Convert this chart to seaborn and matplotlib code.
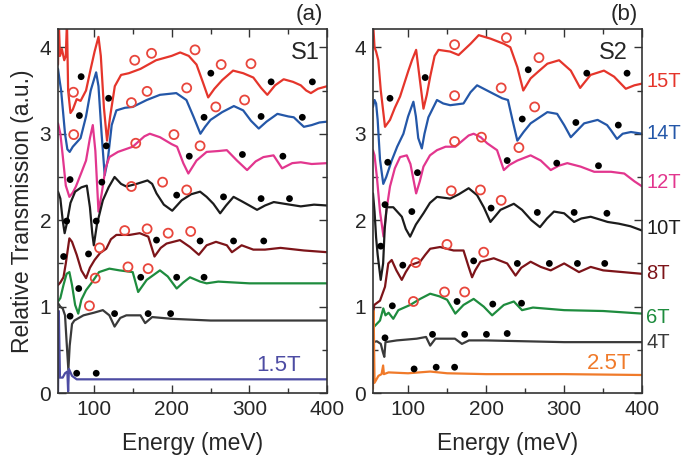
import numpy as np
import pandas as pd
import matplotlib
matplotlib.use("Agg")
import matplotlib.pyplot as plt
from matplotlib.ticker import MultipleLocator
import seaborn as sns

# ---------------- panel (a), sample S1 ----------------
s1_15t_e = [54, 55, 56.5, 59, 62, 64, 65.5, 67, 70, 73, 78, 83, 90, 96, 101, 106, 109, 113, 117, 121, 127, 135, 145, 160, 180, 200, 211, 222, 232, 240, 247, 255, 265, 279, 292, 305, 315, 323, 333, 344, 356, 366, 373, 379, 388, 400]
s1_15t_y = [3.80, 4.3, 3.9, 3.98, 3.85, 3.9, 4.3, 3.5, 3.24, 3.28, 3.40, 3.38, 3.50, 3.75, 3.95, 4.12, 3.9, 3.3, 2.92, 3.2, 3.55, 3.68, 3.70, 3.75, 3.85, 3.9, 3.94, 3.9, 3.8, 3.6, 3.42, 3.52, 3.62, 3.73, 3.70, 3.65, 3.53, 3.45, 3.56, 3.63, 3.6, 3.56, 3.5, 3.47, 3.52, 3.55]

s1_14t_e = [54, 56, 58, 60, 63, 66, 69, 73, 78, 83, 90, 96, 101, 103, 106, 110, 114, 118, 123, 129, 140, 150, 168, 185, 206, 219, 228, 237, 243, 250, 265, 280, 292, 302, 312, 322, 336, 350, 357, 364, 370, 380, 390, 400]
s1_14t_y = [3.75, 3.62, 3.5, 3.3, 3.0, 2.82, 2.79, 2.85, 2.9, 2.95, 3.2, 3.5, 3.65, 3.71, 3.55, 3.0, 2.52, 2.7, 3.1, 3.27, 3.30, 3.31, 3.39, 3.45, 3.47, 3.39, 3.2, 3.0, 3.08, 3.16, 3.25, 3.32, 3.27, 3.15, 3.06, 3.14, 3.23, 3.2, 3.19, 3.13, 3.08, 3.1, 3.13, 3.14]

s1_12t_e = [54, 57, 60, 64, 68.6, 73, 77, 84, 90, 95, 98.7, 102, 106, 110, 115, 120, 131, 150, 165, 172, 185, 200, 207, 215, 221.5, 232, 245, 260, 271, 284, 297, 308, 318, 331, 342, 355, 366, 380, 400]
s1_12t_y = [3.12, 3.0, 2.75, 2.4, 2.27, 2.32, 2.39, 2.55, 2.69, 2.95, 3.10, 2.8, 2.10, 2.3, 2.6, 2.73, 2.79, 2.85, 2.97, 3.0, 2.96, 2.88, 2.85, 2.66, 2.54, 2.69, 2.79, 2.8, 2.81, 2.69, 2.58, 2.68, 2.73, 2.75, 2.60, 2.66, 2.67, 2.65, 2.66]

s1_10t_e = [54, 57, 60, 62.5, 65, 70, 76, 84, 91, 95, 98, 100, 104, 111.6, 119, 126.7, 135, 141.8, 155, 169, 175, 180.6, 190, 200.8, 212.9, 225, 236.6, 245, 253.7, 262.4, 270, 279.6, 290, 300, 309.8, 320, 331.3, 345, 366, 383, 400]
s1_10t_y = [2.33, 2.25, 2.0, 1.85, 1.95, 2.2, 2.33, 2.38, 2.40, 2.15, 1.85, 1.71, 1.95, 2.23, 2.38, 2.50, 2.42, 2.39, 2.42, 2.46, 2.42, 2.31, 2.18, 2.11, 2.23, 2.3, 2.33, 2.27, 2.19, 2.08, 2.17, 2.27, 2.22, 2.17, 2.12, 2.17, 2.21, 2.19, 2.16, 2.18, 2.17]

s1_8t_e = [54, 57, 61, 64, 68.6, 72, 78, 84, 90, 95, 101, 108, 116, 122, 129, 146, 159, 170, 178, 186, 193.5, 210.7, 223.6, 235, 245, 257, 271, 277.5, 290, 305, 320, 340, 370, 400]
s1_8t_y = [1.25, 1.28, 1.34, 1.50, 1.79, 1.75, 1.6, 1.42, 1.33, 1.45, 1.54, 1.62, 1.67, 1.78, 1.83, 1.83, 1.85, 1.81, 1.58, 1.68, 1.73, 1.77, 1.69, 1.60, 1.71, 1.75, 1.71, 1.63, 1.71, 1.66, 1.66, 1.68, 1.65, 1.63]

s1_6t_e = [54, 57, 61, 65, 68.6, 72, 76, 80, 84, 90, 96.7, 106.7, 120, 133, 150, 157, 168, 185, 195, 206.5, 215, 223.6, 236.6, 245, 260, 300, 350, 400]
s1_6t_y = [1.06, 1.10, 1.25, 1.38, 1.40, 1.25, 1.02, 0.92, 1.08, 1.19, 1.27, 1.40, 1.44, 1.42, 1.40, 1.17, 1.31, 1.42, 1.35, 1.21, 1.28, 1.34, 1.29, 1.27, 1.29, 1.27, 1.27, 1.27]

s1_4t_e = [54, 57, 60, 63, 65, 67.3, 69, 72, 75, 86.7, 100, 111.6, 120, 126.7, 134, 141.8, 160, 166, 175, 200, 250, 300, 350, 400]
s1_4t_y = [1.04, 1.0, 0.98, 0.9, 0.6, 0.27, 0.55, 0.8, 0.84, 0.90, 0.93, 0.96, 0.9, 0.77, 0.87, 0.90, 0.90, 0.81, 0.88, 0.86, 0.84, 0.84, 0.84, 0.84]

s1_1p5t_e = [54, 55, 56.5, 60, 63, 66, 67, 68, 72, 78, 100, 200, 300, 400]
s1_1p5t_y = [0.0, 0.95, 0.18, 0.18, 0.23, 0.25, 0.02, 0.28, 0.2, 0.16, 0.16, 0.16, 0.16, 0.16]

s1_dot_e = [83.7, 119, 250.4, 327.9, 380.9, 81.5, 241.7, 315, 368, 116, 69.5, 110.3, 222.7, 291, 343, 65.1, 103.1, 206.5, 266.7, 315, 351.5, 61.2, 93.2, 180.6, 236.6, 279.6, 318.4, 80.6, 160.3, 206.5, 241.7, 69.5, 126.7, 169.8, 198.7, 78, 103.1]
s1_dot_y = [3.66, 3.41, 3.70, 3.60, 3.60, 3.21, 3.19, 3.20, 3.19, 2.86, 2.47, 2.44, 2.74, 2.76, 2.74, 1.99, 1.99, 2.29, 2.27, 2.25, 2.25, 1.58, 1.61, 1.77, 1.76, 1.76, 1.76, 1.21, 1.34, 1.34, 1.34, 0.89, 0.92, 0.92, 0.92, 0.23, 0.23]

s1_ring_e = [73.8, 152.6, 174.2, 230.1, 263.7, 302, 74.2, 148.3, 168.5, 219.4, 256.8, 293.8, 153.9, 203, 236.6, 148.3, 188.4, 219.4, 139.7, 168.5, 195.6, 224.5, 107.4, 143.9, 169.8, 101.8, 94.4]
s1_ring_y = [3.48, 3.85, 3.93, 3.97, 3.80, 3.81, 2.99, 3.36, 3.49, 3.53, 3.31, 3.39, 2.89, 2.99, 2.86, 2.39, 2.44, 2.35, 1.88, 1.90, 1.85, 1.87, 1.68, 1.46, 1.44, 1.33, 1.01]

# ---------------- panel (b), sample S2 ----------------
s2_15t_e = [55, 57, 59, 61.8, 65, 70.4, 76.8, 83, 89.7, 100.4, 105, 110.3, 114, 119.7, 124, 128.3, 134, 139, 154, 164.7, 180, 190.5, 205.5, 222.7, 231, 240, 247.6, 257, 267, 278.5, 293.5, 308.5, 320.5, 333.8, 351, 364, 379, 390, 400]
s2_15t_y = [4.3, 4.0, 3.95, 3.85, 3.5, 3.08, 3.16, 3.3, 3.43, 3.73, 3.85, 3.97, 3.7, 3.29, 3.45, 3.66, 3.9, 3.97, 3.95, 3.91, 4.04, 4.14, 4.10, 4.04, 4.0, 3.77, 3.50, 3.64, 3.72, 3.81, 3.85, 3.73, 3.53, 3.68, 3.73, 3.66, 3.52, 3.56, 3.58]

s2_14t_e = [55, 57, 59, 61, 64, 68.2, 72, 79, 86, 94, 100, 106.8, 110, 113, 117.6, 121, 126, 137, 145, 154, 171, 180, 188.4, 205.5, 220.6, 228, 234, 240, 248, 257, 278.5, 291, 300, 308.5, 316, 325.6, 342.9, 355, 360, 367.7, 375, 385.6, 400]
s2_14t_y = [3.31, 3.39, 3.35, 3.16, 2.7, 2.42, 2.5, 2.69, 2.85, 3.0, 3.2, 3.37, 3.2, 2.95, 2.83, 3.0, 3.19, 3.39, 3.35, 3.33, 3.35, 3.48, 3.56, 3.48, 3.41, 3.39, 3.15, 2.92, 3.02, 3.12, 3.25, 3.23, 3.1, 2.96, 3.03, 3.12, 3.16, 3.1, 3.04, 2.94, 3.0, 3.02, 3.0]

s2_12t_e = [55, 57, 60, 64, 68.5, 72, 76.8, 83, 89.7, 98.3, 103, 110.3, 115, 119.7, 128, 137, 148, 160.5, 177.6, 184, 193, 201.3, 214, 222.7, 230, 240, 257, 270, 282.8, 293, 304, 321, 338.5, 360, 377, 390, 400]
s2_12t_y = [2.81, 2.75, 2.5, 2.1, 1.81, 2.1, 2.39, 2.6, 2.73, 2.75, 2.65, 2.31, 2.45, 2.62, 2.75, 2.81, 2.85, 2.85, 2.98, 3.0, 2.96, 2.89, 2.81, 2.58, 2.64, 2.69, 2.75, 2.69, 2.58, 2.63, 2.66, 2.62, 2.56, 2.56, 2.54, 2.45, 2.39]

s2_10t_e = [55, 57, 59, 61, 64.9, 68, 70, 72.6, 81, 92, 97, 102.6, 110, 119.7, 128, 137, 154, 165, 177.6, 188.4, 197, 205.5, 212, 218.4, 235.5, 246, 258, 269, 278, 287, 300, 312.7, 322, 334, 345, 355.7, 370, 385, 400]
s2_10t_y = [2.31, 2.1, 1.8, 1.6, 1.31, 1.5, 1.9, 2.15, 2.15, 2.04, 1.9, 1.81, 1.95, 2.08, 2.2, 2.27, 2.25, 2.3, 2.37, 2.29, 2.15, 1.98, 2.05, 2.12, 2.19, 2.12, 2.0, 1.92, 2.02, 2.10, 2.08, 1.98, 2.02, 2.04, 2.01, 1.98, 1.96, 1.93, 1.88]

s2_8t_e = [55, 56.6, 64, 70.4, 74.6, 79, 85, 91.9, 97, 102.6, 115.4, 122, 128.3, 141, 158.3, 171, 177.6, 182, 186, 192.7, 209.8, 227, 237.7, 245, 257, 270, 282.8, 300, 319, 334, 350, 375, 400]
s2_8t_y = [0.9, 1.02, 1.07, 1.23, 1.50, 1.54, 1.42, 1.31, 1.4, 1.48, 1.52, 1.6, 1.67, 1.69, 1.65, 1.65, 1.46, 1.34, 1.42, 1.52, 1.56, 1.50, 1.36, 1.45, 1.52, 1.46, 1.42, 1.50, 1.40, 1.46, 1.42, 1.40, 1.38]

s2_6t_e = [55, 56.6, 64, 68.2, 71, 75, 81, 87.5, 102.6, 115.4, 128.3, 140, 150, 160.5, 171, 184, 197, 207.7, 222.7, 235.5, 246, 260, 300, 350, 400]
s2_6t_y = [0.75, 0.77, 0.84, 0.98, 0.9, 0.93, 0.86, 0.96, 1.02, 1.09, 1.15, 1.12, 1.08, 0.92, 1.02, 1.09, 1.0, 0.90, 1.02, 1.06, 0.96, 0.99, 0.96, 0.95, 0.92]

s2_4t_e = [55, 60, 65, 67.5, 69.5, 71, 85.5, 111, 123, 128.3, 135, 160, 169, 178, 200, 250, 300, 400]
s2_4t_y = [0.59, 0.6, 0.57, 0.48, 0.42, 0.59, 0.61, 0.63, 0.65, 0.55, 0.63, 0.63, 0.57, 0.61, 0.61, 0.60, 0.59, 0.59]

s2_2p5t_e = [55, 55.8, 57, 62, 66, 68, 69, 75, 100, 128.3, 150, 200, 300, 400]
s2_2p5t_y = [0.05, 0.95, 0.12, 0.2, 0.22, 0.32, 0.22, 0.24, 0.23, 0.25, 0.23, 0.22, 0.22, 0.21]

s2_dot_e = [76.8, 121.9, 254, 329, 380.6, 246.3, 315, 369.4, 73.9, 112, 227, 290.5, 344, 70.4, 104.8, 206.4, 265.6, 312.8, 354.8, 64.9, 93.2, 184, 240, 281, 317, 352, 79.8, 162.7, 208.5, 245.4, 70.4, 131.3, 172.5, 200.4, 227, 107.7, 136, 159.6]
s2_dot_y = [3.41, 3.65, 3.74, 3.70, 3.70, 3.17, 3.13, 3.10, 2.67, 2.55, 2.69, 2.66, 2.63, 2.18, 2.10, 2.14, 2.09, 2.09, 2.08, 1.70, 1.48, 1.53, 1.50, 1.50, 1.50, 1.50, 1.01, 1.06, 1.03, 1.04, 0.64, 0.68, 0.68, 0.68, 0.69, 0.28, 0.30, 0.30]

s2_ring_e = [159.6, 226, 267.7, 159.6, 219.3, 262.2, 159.6, 194, 242, 155.3, 192.7, 219.3, 149.8, 196.9, 109.9, 146.7, 172.5, 106.8]
s2_ring_y = [4.03, 4.11, 3.88, 3.44, 3.53, 3.31, 2.91, 2.96, 2.84, 2.34, 2.35, 2.23, 1.72, 1.63, 1.51, 1.17, 1.17, 1.06]

# field labels to the right of panel (b)
s2_labels = ["15T", "14T", "12T", "10T", "8T", "6T", "4T"]
s2_label_y = [3.60, 3.00, 2.44, 1.90, 1.38, 0.88, 0.59]

RED = "#e5352b"
BLUE = "#2457a8"
MAGENTA = "#e2368e"
BLACK = "#1c1c1c"
DARKRED = "#7d1419"
GREEN = "#1e8c3e"
GRAY = "#3a3a3a"
PURPLE = "#4d4ca3"
ORANGE = "#f07a2a"
RING = "#e8463c"

sns.set_style("ticks")
plt.rcParams["font.family"] = ["Liberation Sans", "DejaVu Sans"]

fig = plt.figure(figsize=(6.85, 4.62), dpi=100)
ax1 = fig.add_axes([0.0847, 0.149, 0.393, 0.788])
ax2 = fig.add_axes([0.5445, 0.149, 0.393, 0.788])

panel_a = [
    (s1_15t_e, s1_15t_y, RED), (s1_14t_e, s1_14t_y, BLUE), (s1_12t_e, s1_12t_y, MAGENTA),
    (s1_10t_e, s1_10t_y, BLACK), (s1_8t_e, s1_8t_y, DARKRED), (s1_6t_e, s1_6t_y, GREEN),
    (s1_4t_e, s1_4t_y, GRAY), (s1_1p5t_e, s1_1p5t_y, PURPLE),
]
panel_b = [
    (s2_15t_e, s2_15t_y, RED), (s2_14t_e, s2_14t_y, BLUE), (s2_12t_e, s2_12t_y, MAGENTA),
    (s2_10t_e, s2_10t_y, BLACK), (s2_8t_e, s2_8t_y, DARKRED), (s2_6t_e, s2_6t_y, GREEN),
    (s2_4t_e, s2_4t_y, GRAY), (s2_2p5t_e, s2_2p5t_y, ORANGE),
]

for ax, curves, dots, rings in [
    (ax1, panel_a, (s1_dot_e, s1_dot_y), (s1_ring_e, s1_ring_y)),
    (ax2, panel_b, (s2_dot_e, s2_dot_y), (s2_ring_e, s2_ring_y)),
]:
    for e, y, c in curves:
        df = pd.DataFrame({"E": e, "T": y})
        sns.lineplot(data=df, x="E", y="T", ax=ax, color=c, linewidth=1.6,
                     sort=False, estimator=None)
    sns.scatterplot(x=dots[0], y=dots[1], ax=ax, color="black", s=24,
                    edgecolor="none", zorder=5)
    sns.scatterplot(x=rings[0], y=rings[1], ax=ax, color=RING, facecolor="none",
                    edgecolor=RING, linewidth=1.3, s=42, zorder=5)

    ax.set_ylim(0, 4.21)
    ax.xaxis.set_major_locator(MultipleLocator(100))
    ax.xaxis.set_minor_locator(MultipleLocator(50))
    ax.yaxis.set_major_locator(MultipleLocator(1))
    ax.yaxis.set_minor_locator(MultipleLocator(0.5))
    ax.tick_params(which="both", direction="in", top=True, right=True, width=1,
                   labelsize=15, color="#333333", pad=5)
    ax.tick_params(which="major", length=6)
    ax.tick_params(which="minor", length=3.5)
    for sp in ax.spines.values():
        sp.set_linewidth(1.2)
        sp.set_color("#333333")
    ax.set_xlabel("Energy (meV)", fontsize=16.5, labelpad=9)
    ax.set_ylabel("")

ax1.set_xlim(54, 400)
ax2.set_xlim(55, 400)
ax1.set_ylabel("Relative Transmission (a.u.)", fontsize=16.5, labelpad=4)

ax1.text(0.985, 1.01, "(a)", transform=ax1.transAxes, ha="right", va="bottom", fontsize=16)
ax2.text(0.985, 1.01, "(b)", transform=ax2.transAxes, ha="right", va="bottom", fontsize=16)
ax1.text(391, 3.93, "S1", ha="right", va="center", fontsize=17)
ax2.text(382, 3.93, "S2", ha="right", va="center", fontsize=17)
ax1.text(366, 0.32, "1.5T", ha="right", va="center", fontsize=16, color=PURPLE)
ax2.text(386, 0.34, "2.5T", ha="right", va="center", fontsize=16, color=ORANGE)

label_colors = [RED, BLUE, MAGENTA, BLACK, DARKRED, GREEN, GRAY]
for lab, yy, c in zip(s2_labels, s2_label_y, label_colors):
    ax2.text(1.016, yy, lab, transform=ax2.get_yaxis_transform(), ha="left",
             va="center", fontsize=14.5, color=c)

fig.savefig("out.png", dpi=100)
